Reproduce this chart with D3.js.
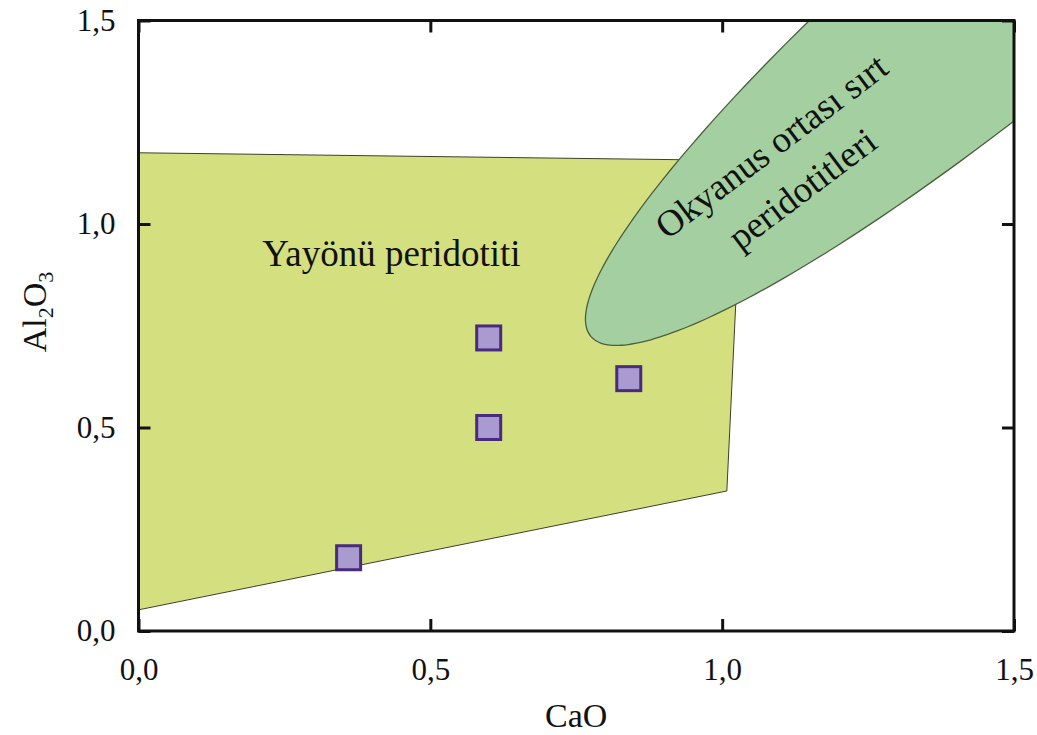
<!DOCTYPE html>
<html><head><meta charset="utf-8">
<script src="https://cdn.jsdelivr.net/npm/d3@7"></script>
<style>html,body{margin:0;padding:0;background:#fff;}svg{display:block;}</style>
</head><body>
<svg id="chart" width="1037" height="735"></svg>
<script>
// ---- data ----
const tickValues = [0, 0.5, 1.0, 1.5];
const tickLabels = ["0,0", "0,5", "1,0", "1,5"];
const sampleCaO = [0.36, 0.60, 0.60, 0.84];
const sampleAl2O3 = [0.18, 0.72, 0.50, 0.62];
// Yayönü peridotiti field (polygon vertices)
const fieldCaO = [0, 1.035, 1.008, 0];
const fieldAl2O3 = [1.175, 1.156, 0.344, 0.052];
// Okyanus ortası sırt peridotitleri field (ellipse: centre, major and minor conjugate vectors in data units)
const morbCenter = [1.563, 1.672];
const morbMajor = [0.788, 0.948];
const morbMinor = [-0.121, 0.207];
const xLabel = "CaO";
const fieldLabel = "Yayönü peridotiti";
const morbLabel = ["Okyanus ortası sırt", "peridotitleri"];

// ---- layout ----
const svg = d3.select("#chart");
const x = d3.scaleLinear().domain([0, 1.5]).range([138.5, 1014]);
const y = d3.scaleLinear().domain([0, 1.5]).range([631, 20.5]);
const fmt = d => tickLabels[tickValues.indexOf(d)];
const serif = "'Liberation Serif','Times New Roman',serif";

svg.append("defs").append("clipPath").attr("id", "plotclip")
  .append("rect").attr("x", x(0)).attr("y", y(1.5))
  .attr("width", x(1.5) - x(0)).attr("height", y(0) - y(1.5));

const plot = svg.append("g").attr("clip-path", "url(#plotclip)");

// yellow field
const fieldPts = fieldCaO.map((c, i) => [x(c), y(fieldAl2O3[i])]);
plot.append("path")
  .attr("d", d3.line()(fieldPts) + "Z")
  .attr("fill", "#d4e07f").attr("stroke", "#3d4028").attr("stroke-width", 1);

// green ellipse
const ellPts = d3.range(0, 360, 2).map(a => {
  const t = a * Math.PI / 180;
  return [x(morbCenter[0] + Math.cos(t) * morbMajor[0] + Math.sin(t) * morbMinor[0]),
          y(morbCenter[1] + Math.cos(t) * morbMajor[1] + Math.sin(t) * morbMinor[1])];
});
plot.append("path")
  .attr("d", d3.line().curve(d3.curveCardinalClosed)(ellPts))
  .attr("fill", "#a4d0a1").attr("stroke", "#4d5e3c").attr("stroke-width", 1.3);

// labels
svg.append("text").attr("x", x(0.212)).attr("y", y(0.897))
  .attr("font-family", serif).attr("font-size", 37).attr("fill", "#111")
  .text(fieldLabel);

const morbPos = [[1.097, 1.167], [1.150, 1.062]];
morbLabel.forEach((t, i) => {
  svg.append("text")
    .attr("transform", `translate(${x(morbPos[i][0])},${y(morbPos[i][1])}) rotate(-37)`)
    .attr("text-anchor", "middle")
    .attr("font-family", serif).attr("font-size", 37).attr("fill", "#111")
    .text(t);
});

// samples
svg.append("g").selectAll("rect").data(sampleCaO).join("rect")
  .attr("x", (d) => x(d) - 12).attr("y", (d, i) => y(sampleAl2O3[i]) - 12)
  .attr("width", 24).attr("height", 24)
  .attr("fill", "#a99bcf").attr("stroke", "#4a2a7c").attr("stroke-width", 3);

// axes
const styleAxis = g => {
  g.select(".domain").remove();
  g.selectAll(".tick line").attr("stroke", "#111").attr("stroke-width", 3);
  g.selectAll("text").attr("font-family", serif).attr("font-size", 31).attr("fill", "#111");
};
svg.append("g").attr("transform", `translate(0,${y(0)})`)
  .call(d3.axisBottom(x).tickValues(tickValues).tickFormat(fmt).tickSizeInner(-12).tickSizeOuter(0).tickPadding(27))
  .call(styleAxis);
svg.append("g").attr("transform", `translate(${x(0)},0)`)
  .call(d3.axisLeft(y).tickValues(tickValues).tickFormat(fmt).tickSizeInner(-12).tickSizeOuter(0).tickPadding(23))
  .call(styleAxis);
svg.append("g").attr("transform", `translate(0,${y(1.5)})`)
  .call(d3.axisTop(x).tickValues(tickValues).tickFormat("").tickSizeInner(-12).tickSizeOuter(0))
  .call(styleAxis);
svg.append("g").attr("transform", `translate(${x(1.5)},0)`)
  .call(d3.axisRight(y).tickValues(tickValues).tickFormat("").tickSizeInner(-12).tickSizeOuter(0))
  .call(styleAxis);

// frame
svg.append("rect").attr("x", x(0)).attr("y", y(1.5))
  .attr("width", x(1.5) - x(0)).attr("height", y(0) - y(1.5))
  .attr("fill", "none").attr("stroke", "#111").attr("stroke-width", 3);

// axis titles
svg.append("text").attr("x", (x(0) + x(1.5)) / 2).attr("y", 727)
  .attr("text-anchor", "middle").attr("font-family", serif).attr("font-size", 34).attr("fill", "#111")
  .text(xLabel);

const yt = svg.append("text").attr("transform", `translate(46,312) rotate(-90)`)
  .attr("text-anchor", "middle").attr("font-family", serif).attr("font-size", 34).attr("fill", "#111");
yt.append("tspan").text("Al");
yt.append("tspan").attr("font-size", 22).attr("dy", 7).text("2");
yt.append("tspan").attr("dy", -7).text("O");
yt.append("tspan").attr("font-size", 22).attr("dy", 7).text("3");
</script>
</body></html>
